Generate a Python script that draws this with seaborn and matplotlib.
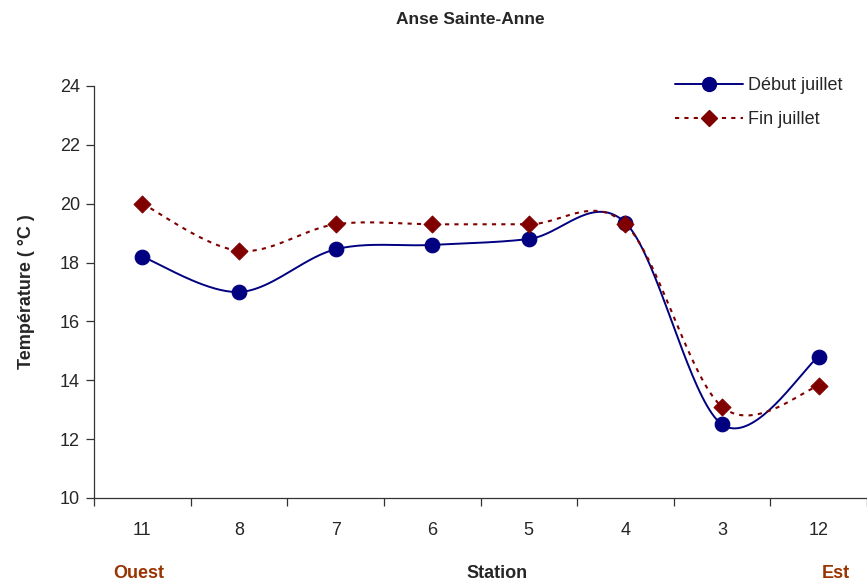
import numpy as np
import matplotlib
matplotlib.use('Agg')
import matplotlib.pyplot as plt
import seaborn as sns
from matplotlib.lines import Line2D

stations = ['11', '8', '7', '6', '5', '4', '3', '12']
debut_juillet = [18.2, 17.0, 18.45, 18.6, 18.8, 19.35, 12.5, 14.8]
fin_juillet = [20.0, 18.4, 19.3, 19.3, 19.3, 19.3, 13.1, 13.8]

BLUE = '#000080'
RED = '#800000'
BROWN = '#993300'


def smooth(ys, n=40):
    # Excel-style smoothed line: bezier segments with catmull-rom control points
    xs = np.arange(len(ys), dtype=float)
    ys = np.asarray(ys, dtype=float)
    px = np.concatenate([[xs[0]], xs, [xs[-1]]])
    py = np.concatenate([[ys[0]], ys, [ys[-1]]])
    t = np.linspace(0, 1, n)
    out_x, out_y = [], []
    for i in range(len(xs) - 1):
        p0 = np.array([px[i], py[i]])
        p1 = np.array([px[i + 1], py[i + 1]])
        p2 = np.array([px[i + 2], py[i + 2]])
        p3 = np.array([px[i + 3], py[i + 3]])
        c1 = p1 + (p2 - p0) / 6
        c2 = p2 - (p3 - p1) / 6
        pts = (np.outer((1 - t) ** 3, p1) + np.outer(3 * (1 - t) ** 2 * t, c1)
               + np.outer(3 * (1 - t) * t ** 2, c2) + np.outer(t ** 3, p2))
        out_x.extend(pts[:, 0])
        out_y.extend(pts[:, 1])
    return np.array(out_x), np.array(out_y)


sns.set_style('ticks')
plt.rcParams['font.family'] = ['Liberation Sans', 'DejaVu Sans']

fig = plt.figure(figsize=(8.67, 5.85), dpi=100)
ax = fig.add_axes([94 / 867, 1 - 498 / 585, 773 / 867, 412 / 585])

x = np.arange(len(stations))

sx, sy = smooth(debut_juillet)
sns.lineplot(x=sx, y=sy, ax=ax, sort=False, color=BLUE, linewidth=1.4, estimator=None)
sx, sy = smooth(fin_juillet)
sns.lineplot(x=sx, y=sy, ax=ax, sort=False, color=RED, linewidth=1.5,
             linestyle=(0, (2, 2.5)), estimator=None)

sns.scatterplot(x=x, y=debut_juillet, ax=ax, marker='o', s=110, color=BLUE,
                edgecolor=BLUE, zorder=3)
sns.scatterplot(x=x, y=fin_juillet, ax=ax, marker='D', s=75, color=RED,
                edgecolor=RED, zorder=3)

ax.set_xlim(-0.5, len(stations) - 0.5)
ax.set_ylim(10, 24)
ax.set_yticks(range(10, 25, 2))
ax.set_xticks(x)
ax.set_xticklabels(stations)
ax.set_xticks(np.arange(-0.5, len(stations), 1), minor=True)
ax.tick_params(axis='x', which='major', length=0, pad=17, labelsize=13)
ax.tick_params(axis='x', which='minor', length=6, width=0.9, color='#333333')
ax.tick_params(axis='y', length=6, width=0.9, color='#333333', labelsize=13, pad=4)

for side in ['top', 'right']:
    ax.spines[side].set_visible(False)
for side in ['left', 'bottom']:
    ax.spines[side].set_color('#333333')
    ax.spines[side].set_linewidth(0.9)

ax.set_ylabel('Température ( °C )', fontsize=13, fontweight='bold', labelpad=18)
ax.set_xlabel('')

fig.text(470 / 867, 1 - 20 / 585, 'Anse Sainte-Anne', ha='center', va='center',
         fontsize=12.5, fontweight='bold')
fig.text(497 / 867, 1 - 573 / 585, 'Station', ha='center', va='center',
         fontsize=13, fontweight='bold')
fig.text(139 / 867, 1 - 573 / 585, 'Ouest', ha='center', va='center',
         fontsize=13, fontweight='bold', color=BROWN)
fig.text(836 / 867, 1 - 573 / 585, 'Est', ha='center', va='center',
         fontsize=13, fontweight='bold', color=BROWN)

handles = [
    Line2D([], [], color=BLUE, linewidth=1.4, marker='o', markersize=10),
    Line2D([], [], color=RED, linewidth=1.5, linestyle=(0, (2, 2.5)),
           marker='D', markersize=8),
]
fig.legend(handles, ['Début juillet', 'Fin juillet'], loc='upper left',
           bbox_to_anchor=(659 / 867, 1 - 61 / 585), frameon=False,
           fontsize=13, handlelength=3.75, handletextpad=0.3, labelspacing=0.95)

fig.savefig('out.png', dpi=100)
